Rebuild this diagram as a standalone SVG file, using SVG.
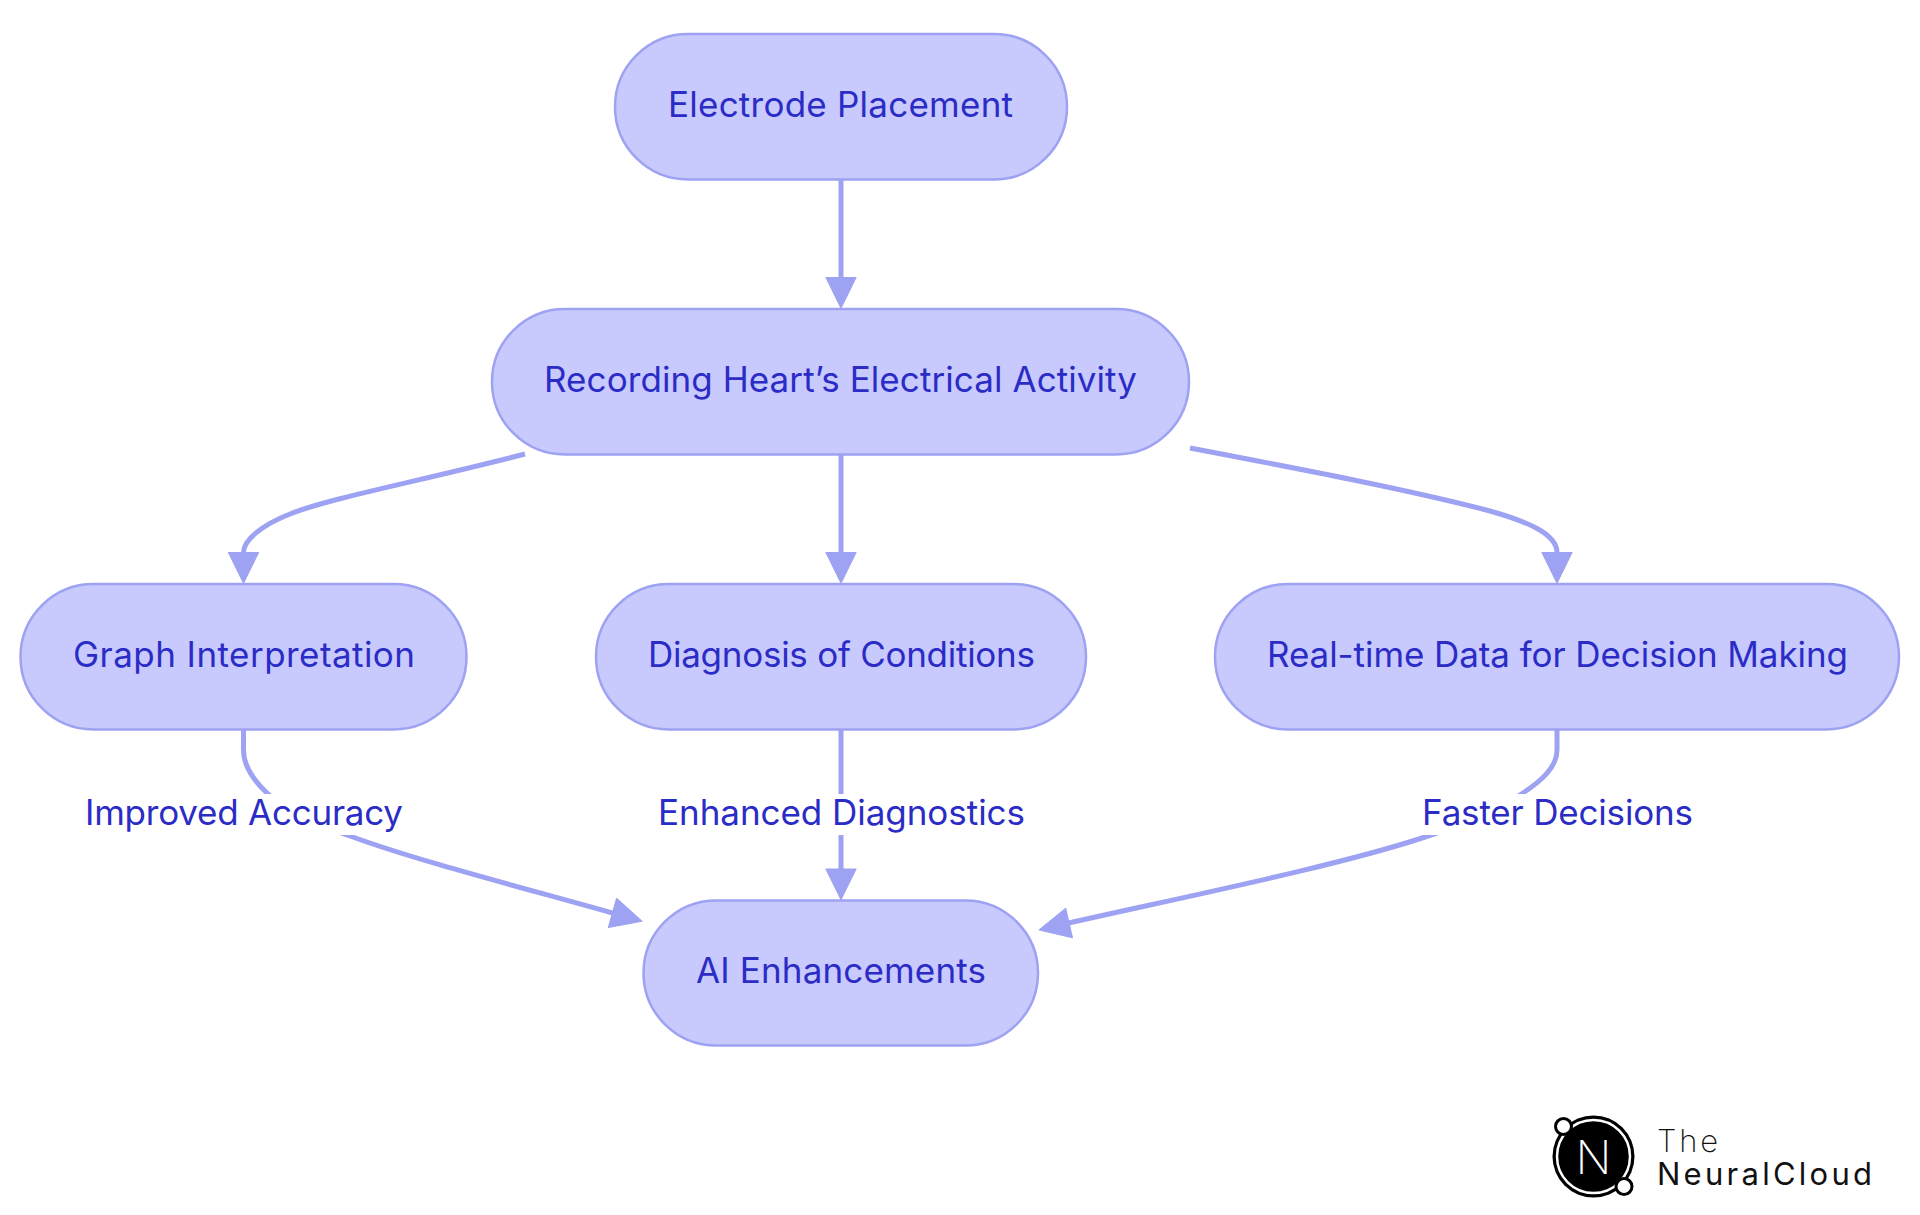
<svg xmlns="http://www.w3.org/2000/svg" width="1920" height="1215" viewBox="0 0 1920 1215">
<style>
.n{fill:#c8c9fd;stroke:#9ea2f2;stroke-width:2.5}
.t{font-family:Inter,"Liberation Sans",sans-serif;font-size:35px;font-weight:400;fill:#2b2cc6}
.e{fill:none;stroke:#9ea2f2;stroke-width:5}
.b{fill:#fff}
.lg{font-family:Inter,"Liberation Sans",sans-serif;fill:#111}
</style>
<defs>
<marker id="a" markerUnits="userSpaceOnUse" markerWidth="38" markerHeight="38" refX="3" refY="19" orient="auto"><path d="M3,4 L33.500,19 L3,34 Z" fill="#9ea2f2" stroke="#9ea2f2" stroke-width="1.200" stroke-linejoin="round"/></marker>
</defs>
<rect width="1920" height="1215" fill="#fff"/>
<g id="node-electrode"><rect class="n" x="615" y="34" width="452" height="145.500" rx="73" ry="73"/><text class="t" x="668" y="116.500" textLength="345">Electrode Placement</text></g>
<g id="node-recording"><rect class="n" x="492" y="309" width="697" height="145.500" rx="73" ry="73"/><text class="t" x="544" y="391.500" textLength="593">Recording Heart’s Electrical Activity</text></g>
<g id="node-graph"><rect class="n" x="20.500" y="584" width="446" height="145.500" rx="73" ry="73"/><text class="t" x="73" y="666.500" textLength="342">Graph Interpretation</text></g>
<g id="node-diagnosis"><rect class="n" x="596" y="584" width="490" height="145.500" rx="73" ry="73"/><text class="t" x="648" y="666.500" textLength="387">Diagnosis of Conditions</text></g>
<g id="node-realtime"><rect class="n" x="1215" y="584" width="684" height="145.500" rx="73" ry="73"/><text class="t" x="1267" y="666.500" textLength="581">Real-time Data for Decision Making</text></g>
<g id="node-ai"><rect class="n" x="643.500" y="900.500" width="394.500" height="145" rx="73" ry="73"/><text class="t" x="696" y="982.500" textLength="290">AI Enhancements</text></g>
<g id="connectors">
<path class="e" marker-end="url(#a)" d="M841,180 L841,277.500"/>
<path class="e" marker-end="url(#a)" d="M841,455 L841,552.500"/>
<path class="e" marker-end="url(#a)" d="M525,454 C420,481 330,498 290,514 C262,525 243.500,540 243.500,552.500"/>
<path class="e" marker-end="url(#a)" d="M1190,448 C1300,469 1410,490 1490,511 C1525,521 1557,533 1557,552.500"/>
<path class="e" marker-end="url(#a)" d="M243.500,730 L243.500,750 C243.500,768 255,782 268,794 C285,812 320,825 350,836 C415,860 520,887 612.500,913"/>
<path class="e" marker-end="url(#a)" d="M841,730 L841,869"/>
<path class="e" marker-end="url(#a)" d="M1557,730 L1557,750 C1557,768 1540,782 1520,795 C1500,812 1465,824 1428,836 C1340,866 1160,902 1069,923"/>
</g>
<g id="edge-labels">
<g id="label-accuracy"><rect class="b" x="84" y="794" width="320" height="41"/><text class="t" x="85" y="824.500" textLength="318">Improved Accuracy</text></g>
<g id="label-diagnostics"><rect class="b" x="657" y="794" width="369" height="41"/><text class="t" x="658" y="824.500" textLength="367">Enhanced Diagnostics</text></g>
<g id="label-decisions"><rect class="b" x="1421" y="794" width="273" height="41"/><text class="t" x="1422" y="824.500" textLength="271">Faster Decisions</text></g>
</g>
<g id="logo">
<circle cx="1593.500" cy="1156.500" r="41" fill="#000"/>
<circle cx="1593.500" cy="1156.500" r="36.500" fill="none" stroke="#fff" stroke-width="2.500"/>
<circle cx="1563.500" cy="1126.500" r="8" fill="#fff" stroke="#000" stroke-width="3"/>
<circle cx="1624" cy="1186.500" r="8" fill="#fff" stroke="#000" stroke-width="3"/>
<text x="1593.500" y="1173.500" text-anchor="middle" font-family="Inter,sans-serif" font-weight="200" font-size="47" fill="#fff">N</text>
<text class="lg" x="1657" y="1152" font-size="31" font-weight="200" textLength="61">The</text>
<text class="lg" x="1657" y="1185" font-size="31" font-weight="400" textLength="215">NeuralCloud</text>
</g>
</svg>
